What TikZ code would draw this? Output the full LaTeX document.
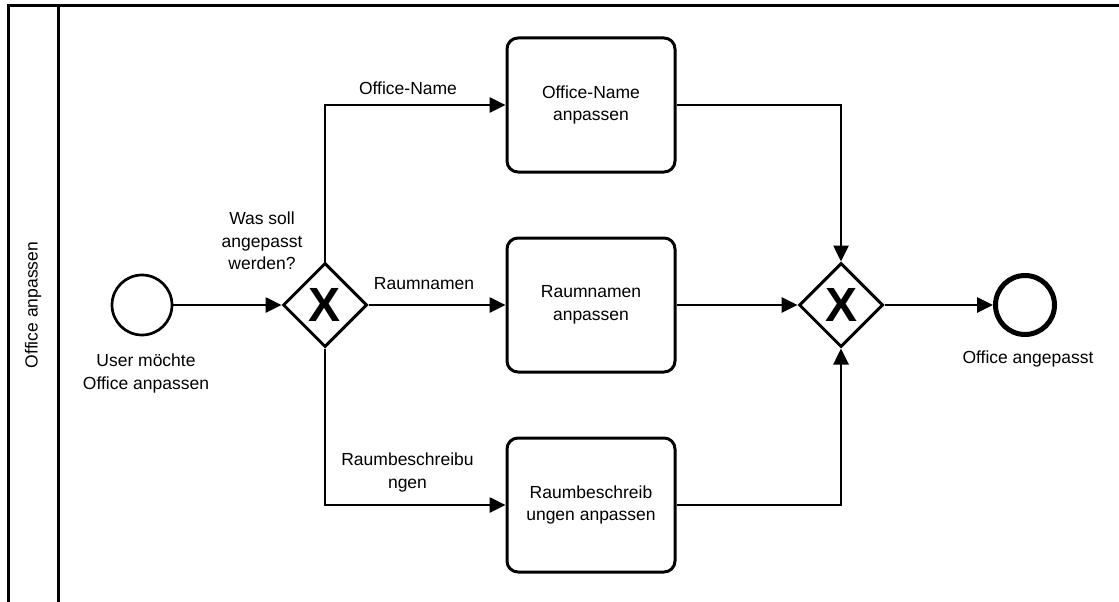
\documentclass[tikz,border=0pt]{standalone}
\usepackage{fontspec}
\setmainfont{Liberation Sans}
\usetikzlibrary{arrows.meta,shapes.geometric}

\tikzset{
  txt/.style={font=\fontsize{17.5}{22.5}\selectfont, align=center, inner sep=0pt},
  pool/.style={line width=3pt},
  flow/.style={line width=2.6pt, -{Triangle[length=16pt,width=15pt]}},
  task/.style={draw, line width=3pt, rounded corners=11pt, minimum width=168pt,
    minimum height=134pt, txt},
  gateway/.style={draw, diamond, line width=3pt, minimum width=84pt, minimum height=84pt,
    inner sep=0pt, font=\fontsize{48}{48}\selectfont\bfseries},
  startev/.style={draw, circle, line width=2.7pt, minimum size=60pt, inner sep=0pt},
  endev/.style={draw, circle, line width=5pt, minimum size=59pt, inner sep=0pt},
}

\begin{document}
\begin{tikzpicture}[x=1pt, y=-1pt]
  \useasboundingbox (0,0) rectangle (1119,602);
  \clip (0,0) rectangle (1119,602);

  % pool and its title band
  \draw[pool] (8.7,640) -- (8.7,5.5) -- (1140,5.5);
  \draw[pool] (58.7,5.5) -- (58.7,640);
  \node[txt, rotate=90] (pooltitle) at (33,305) {Office anpassen};

  % events, gateways, tasks
  \node[startev] (start) at (142,305) {};
  \node[gateway] (split) at (325,305) {X};
  \node[task] (tname) at (591,105) {Office-Name\\anpassen};
  \node[task] (troom) at (591,305) {Raumnamen\\anpassen};
  \node[task] (tdesc) at (591,505) {Raumbeschreib\\ungen anpassen};
  \node[gateway] (join) at (841,305) {X};
  \node[endev] (finish) at (1025,305) {};

  % labels
  \node[txt] (lstart) at (146,373.5) {User möchte\\Office anpassen};
  \node[txt] (lfinish) at (1028,358.5) {Office angepasst};
  \node[txt] (lsplit) at (262,241) {Was soll\\angepasst\\werden?};
  \node[txt] (lname) at (408,88) {Office-Name};
  \node[txt] (lroom) at (424,284) {Raumnamen};
  \node[txt] (ldesc) at (407.5,472.5) {Raumbeschreibu\\ngen};

  % sequence flows
  \draw[flow] (start) -- (split);
  \draw[flow] (split.north) |- (tname.west);
  \draw[flow] (split) -- (troom);
  \draw[flow] (split.south) |- (tdesc.west);
  \draw[flow] (tname.east) -| (join.north);
  \draw[flow] (troom) -- (join);
  \draw[flow] (tdesc.east) -| (join.south);
  \draw[flow] (join) -- (finish);
\end{tikzpicture}
\end{document}
